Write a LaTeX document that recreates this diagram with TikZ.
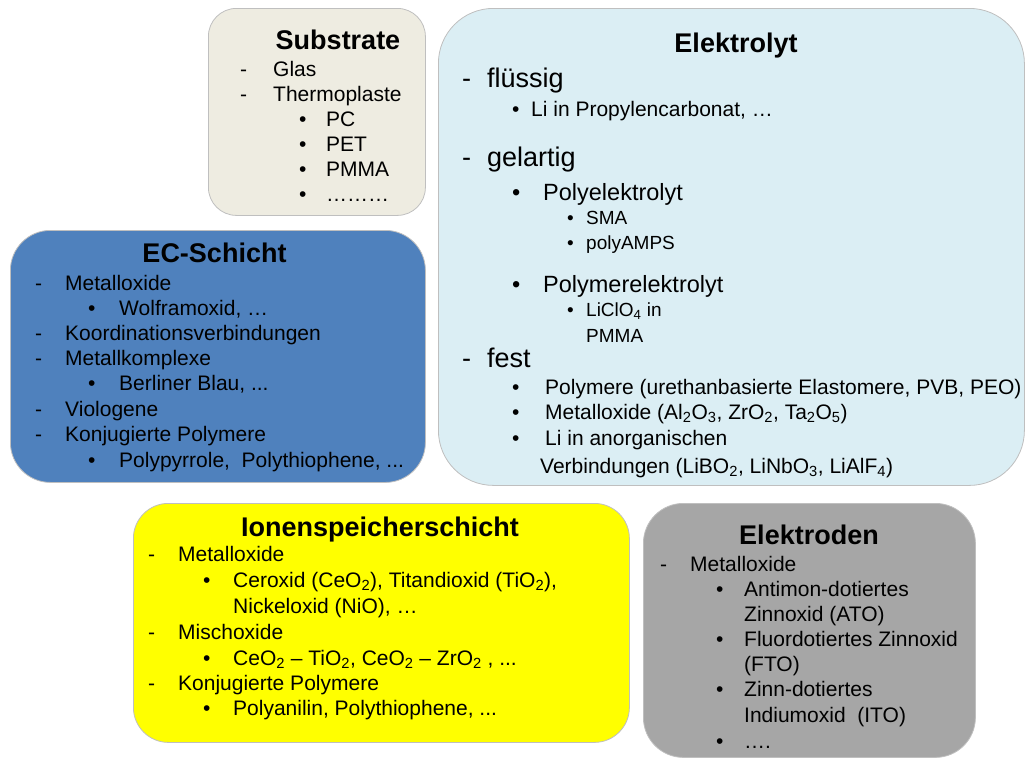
\documentclass[tikz,border=0pt]{standalone}
\usepackage{fontspec}
\setmainfont{Liberation Sans}
\usetikzlibrary{positioning}
\definecolor{sandbg}{HTML}{EEECE1}
\definecolor{ecblue}{HTML}{4F81BD}
\definecolor{elblue}{HTML}{DBEEF4}
\definecolor{ionyel}{HTML}{FFFF00}
\definecolor{elgray}{HTML}{A6A6A6}
\definecolor{rim}{HTML}{BFBFBF}
\newcommand{\dashmk}[1]{\llap{\makebox[#1pt][l]{-}}}
\newcommand{\bulmk}[1]{\llap{\makebox[#1pt][l]{\textbullet}}}
\tikzset{
  panel/.style={rectangle, draw=rim, line width=0.8pt, anchor=north west, inner sep=0pt},
  ttl/.style={font=\fontsize{27}{30}\selectfont\bfseries, anchor=base, inner sep=0pt},
  txt/.style={font=\fontsize{21}{25}\selectfont, anchor=base west, inner sep=0pt},
  big/.style={txt, font=\fontsize{27}{30}\selectfont},
  mid/.style={txt, font=\fontsize{23.5}{28}\selectfont},
  sml/.style={txt, font=\fontsize{19}{23}\selectfont},
}
\begin{document}
\begin{tikzpicture}[x=1pt, y=-1pt]
  \useasboundingbox (0,0) rectangle (1026,758);
  % panels
  \node[panel, fill=sandbg, rounded corners=28pt, minimum width=217pt, minimum height=207pt] (substrate) at (208,8) {};
  \node[panel, fill=elblue, rounded corners=55pt, minimum width=586pt, minimum height=477pt] (elektrolyt) at (438,8) {};
  \node[panel, fill=ecblue, rounded corners=40pt, minimum width=415pt, minimum height=252pt] (ecschicht) at (10,230) {};
  \node[panel, fill=ionyel, rounded corners=35pt, minimum width=496pt, minimum height=239pt] (ionen) at (133,503) {};
  \node[panel, fill=elgray, rounded corners=40pt, minimum width=332pt, minimum height=254pt] (elektroden) at (643,503) {};

  % Substrate
  \node[ttl] (subT) at (338,49.5) {Substrate};
  \node[txt] (sub1) at (273,76) {\dashmk{33}Glas};
  \node[txt] (sub2) at (273,101) {\dashmk{33}Thermoplaste};
  \node[txt] (sub3) at (326,126) {\bulmk{27}PC};
  \node[txt] (sub4) at (326,151) {\bulmk{27}PET};
  \node[txt] (sub5) at (326,176) {\bulmk{27}PMMA};
  \node[txt] (sub6) at (326,201) {\bulmk{27}………};

  % EC-Schicht
  \node[ttl] (ecT) at (214.5,262.5) {EC-Schicht};
  \node[txt] (ec1) at (65,290.5) {\dashmk{30}Metalloxide};
  \node[txt] (ec2) at (119,315.5) {\bulmk{31}Wolframoxid, …};
  \node[txt] (ec3) at (65,340.5) {\dashmk{30}Koordinationsverbindungen};
  \node[txt] (ec4) at (65,365.5) {\dashmk{30}Metallkomplexe};
  \node[txt] (ec5) at (119,390.5) {\bulmk{31}Berliner Blau, ...};
  \node[txt] (ec6) at (65,416.5) {\dashmk{30}Viologene};
  \node[txt] (ec7) at (65,441.5) {\dashmk{30}Konjugierte Polymere};
  \node[txt] (ec8) at (119,467.5) {\bulmk{31}Polypyrrole,\ \ Polythiophene, ...};

  % Elektrolyt
  \node[ttl] (elT) at (736,52.5) {Elektrolyt};
  \node[big] (el1) at (487,87.5) {\dashmk{25}flüssig};
  \node[txt] (el2) at (531,116.5) {\bulmk{19}Li in Propylencarbonat, …};
  \node[big] (el3) at (487,166.5) {\dashmk{25}gelartig};
  \node[mid] (el4) at (543,200.5) {\bulmk{31}Polyelektrolyt};
  \node[sml] (el5) at (586,224.5) {\bulmk{19}SMA};
  \node[sml] (el6) at (586,249.5) {\bulmk{19}polyAMPS};
  \node[mid] (el7) at (543,292.5) {\bulmk{31}Polymerelektrolyt};
  \node[sml] (el8) at (586,316.5) {\bulmk{19}LiClO\textsubscript{4} in};
  \node[sml] (el9) at (586,342.5) {PMMA};
  \node[big] (el10) at (487,367.5) {\dashmk{25}fest};
  \node[txt] (el11) at (545,394.5) {\bulmk{33}Polymere (urethanbasierte Elastomere, PVB, PEO)};
  \node[txt] (el12) at (545,419.5) {\bulmk{33}Metalloxide (Al\textsubscript{2}O\textsubscript{3}, ZrO\textsubscript{2}, Ta\textsubscript{2}O\textsubscript{5})};
  \node[txt] (el13) at (545,445.5) {\bulmk{33}Li in anorganischen};
  \node[txt] (el14) at (540,473.5) {Verbindungen (LiBO\textsubscript{2}, LiNbO\textsubscript{3}, LiAlF\textsubscript{4})};

  % Ionenspeicherschicht
  \node[ttl] (ionT) at (380,536.5) {Ionenspeicherschicht};
  \node[txt] (ion1) at (178,561.5) {\dashmk{30}Metalloxide};
  \node[txt] (ion2) at (233,587.5) {\bulmk{30}Ceroxid (CeO\textsubscript{2}), Titandioxid (TiO\textsubscript{2}),};
  \node[txt] (ion3) at (233,613.5) {Nickeloxid (NiO), …};
  \node[txt] (ion4) at (178,639.5) {\dashmk{30}Mischoxide};
  \node[txt] (ion5) at (233,665.5) {\bulmk{30}CeO\textsubscript{2} – TiO\textsubscript{2}, CeO\textsubscript{2} – ZrO\textsubscript{2} , ...};
  \node[txt] (ion6) at (178,690.5) {\dashmk{30}Konjugierte Polymere};
  \node[txt] (ion7) at (233,715.5) {\bulmk{30}Polyanilin, Polythiophene, ...};

  % Elektroden
  \node[ttl] (edT) at (809,544.5) {Elektroden};
  \node[txt] (ed1) at (690,571.5) {\dashmk{30}Metalloxide};
  \node[txt] (ed2) at (744,596.5) {\bulmk{28}Antimon-dotiertes};
  \node[txt] (ed3) at (744,621.5) {Zinnoxid (ATO)};
  \node[txt] (ed4) at (744,646.5) {\bulmk{28}Fluordotiertes Zinnoxid};
  \node[txt] (ed5) at (744,671.5) {(FTO)};
  \node[txt] (ed6) at (744,696.5) {\bulmk{28}Zinn-dotiertes};
  \node[txt] (ed7) at (744,722.5) {Indiumoxid\ \ (ITO)};
  \node[txt] (ed8) at (744,748) {\bulmk{28}….};
\end{tikzpicture}
\end{document}
